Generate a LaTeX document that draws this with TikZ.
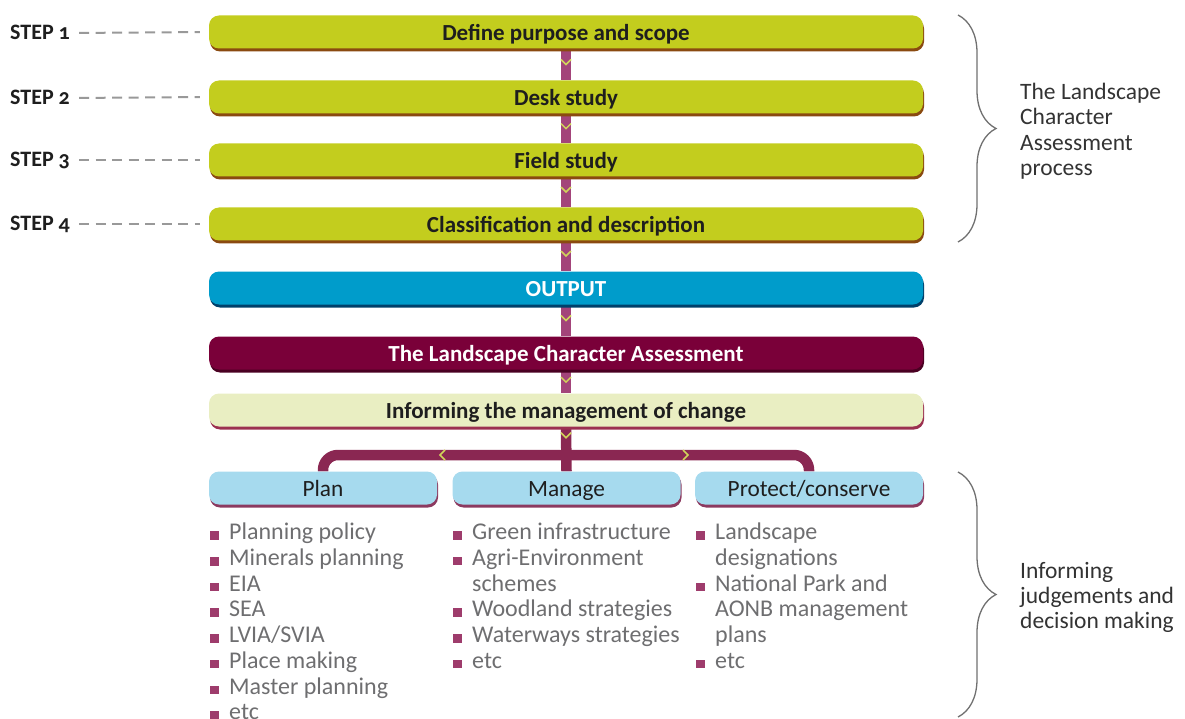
\documentclass[tikz,border=0pt]{standalone}
\usepackage{fontspec}
\setmainfont{Carlito}
\newfontfamily\stepfont[Numbers=OldStyle]{Carlito}
\usetikzlibrary{decorations.pathreplacing,calc}
\definecolor{lime}{HTML}{C3CD1E}
\definecolor{limesh}{HTML}{8A4A10}
\definecolor{outblue}{HTML}{009CCB}
\definecolor{outsh}{HTML}{00406A}
\definecolor{lcamaroon}{HTML}{7A0039}
\definecolor{lcash}{HTML}{4A0022}
\definecolor{pale}{HTML}{E9EEC2}
\definecolor{palesh}{HTML}{9B3050}
\definecolor{lblue}{HTML}{A6DAEE}
\definecolor{lbluesh}{HTML}{8C3A60}
\definecolor{tube}{HTML}{A3447A}
\definecolor{tubedark}{HTML}{8A2752}
\definecolor{chev}{HTML}{D0D45A}
\definecolor{bulc}{HTML}{9E3C6C}
\definecolor{listgray}{HTML}{6E6E70}
\definecolor{dashgray}{HTML}{999999}
\definecolor{txt}{HTML}{1E1E1E}
\definecolor{sidegray}{HTML}{333333}
\definecolor{bracegray}{HTML}{707070}
\pgfdeclarelayer{background}
\pgfsetlayers{background,main}
\newcommand\bul{\makebox[19pt][l]{\textcolor{bulc}{\rule{8.5pt}{8.5pt}}}}
\newcommand\ind{\hspace*{19pt}}
\tikzset{
  bar/.style 2 args={fill=#1, preaction={fill=#2, transform canvas={xshift=1pt,yshift=-3pt}},
    rounded corners=10pt, minimum width=714pt, minimum height=33pt, inner sep=0pt,
    text height=17pt, text depth=0pt,
    font=\fontsize{23}{26}\selectfont\bfseries, text=txt},
  box/.style={fill=lblue, preaction={fill=lbluesh, transform canvas={xshift=1pt,yshift=-3pt}},
    rounded corners=10pt, minimum width=228pt, minimum height=33pt, inner sep=0pt,
    text height=17pt, text depth=0pt,
    font=\fontsize{23.3}{26}\selectfont, text=txt},
  steplabel/.style={anchor=west, inner sep=0pt, text height=14pt, text depth=0pt,
    font=\stepfont\fontsize{22}{24}\selectfont\bfseries, text=txt},
  dashline/.style={draw=dashgray, line width=2pt, dash pattern=on 10pt off 6.5pt, shorten <=9pt, shorten >=9pt},
  vtube/.style={draw=tube, line width=10pt},
  branch/.style={draw=tubedark, line width=10.5pt, rounded corners=15pt},
  chevline/.style={draw=chev, line width=1.5pt},
  listcol/.style={anchor=north west, align=left, inner sep=0pt,
    font=\fontsize{24}{25.7}\selectfont, text=listgray},
  sidetext/.style={anchor=north west, align=left, inner sep=0pt,
    font=\fontsize{23.5}{25.3}\selectfont, text=sidegray},
  bracestyle/.style={draw=bracegray, line width=1.3pt, decorate, decoration={brace, amplitude=38pt, aspect=0.5}}
}
\begin{document}
\begin{tikzpicture}[x=1pt,y=-1pt]
\useasboundingbox (0,0) rectangle (1185,719);
% bars
\node[bar={lime}{limesh}] (b1) at (566,32) {Define purpose and scope};
\node[bar={lime}{limesh}] (b2) at (566,97) {Desk study};
\node[bar={lime}{limesh}] (b3) at (566,160) {Field study};
\node[bar={lime}{limesh}] (b4) at (566,224) {Classification and description};
\node[bar={outblue}{outsh}, text=white] (out) at (566,288) {OUTPUT};
\node[bar={lcamaroon}{lcash}, text=white] (lca) at (566,353) {The Landscape Character Assessment};
\node[bar={pale}{palesh}] (inf) at (566,410) {Informing the management of change};
\node[box] (plan) at (323,488) {Plan};
\node[box] (man) at (566.5,488) {Manage};
\node[box] (prot) at (809,488) {Protect/conserve};
\coordinate (hub) at (566,455);
% connectors
\begin{pgfonlayer}{background}
\draw[vtube] (b1.south) -- (b2.north);
\draw[vtube] (b2.south) -- (b3.north);
\draw[vtube] (b3.south) -- (b4.north);
\draw[vtube] (b4.south) -- (out.north);
\draw[vtube] (out.south) -- (lca.north);
\draw[vtube] (lca.south) -- (inf.north);
\draw[branch] (plan.north) -- (plan.north |- hub) -- (prot.north |- hub) -- (prot.north);
\draw[branch] (inf.south) -- (man.north);
\end{pgfonlayer}
% chevrons
\foreach \a/\b in {b1/b2,b2/b3,b3/b4,b4/out,out/lca,lca/inf}{
  \draw[chevline] ($(\a.south)!0.42!(\b.north)+(-5,-2.5)$) -- ($(\a.south)!0.42!(\b.north)+(0,2.5)$) -- ($(\a.south)!0.42!(\b.north)+(5,-2.5)$);
}
\draw[chevline] ($(inf.south)+(-5,6)$) -- ($(inf.south)+(0,11)$) -- ($(inf.south)+(5,6)$);
\draw[chevline] ($(hub)+(-121,-5)$) -- ($(hub)+(-126,0)$) -- ($(hub)+(-121,5)$);
\draw[chevline] ($(hub)+(117,-5)$) -- ($(hub)+(122,0)$) -- ($(hub)+(117,5)$);
% steps
\node[steplabel] (s1) at (10,33) {STEP 1};
\node[steplabel] (s2) at (10,98) {STEP 2};
\node[steplabel] (s3) at (10,160) {STEP 3};
\node[steplabel] (s4) at (10,224) {STEP 4};
\draw[dashline] (s1.east) -- (b1.west);
\draw[dashline] (s2.east) -- (b2.west);
\draw[dashline] (s3.east) -- (b3.west);
\draw[dashline] (s4.east) -- (b4.west);
% lists
\node[listcol] (l1) at (210,523) {\bul Planning policy\\ \bul Minerals planning\\ \bul EIA\\ \bul SEA\\ \bul LVIA/SVIA\\ \bul Place making\\ \bul Master planning\\ \bul etc};
\node[listcol] (l2) at (453,523) {\bul Green infrastructure\\ \bul Agri-Environment\\ \ind schemes\\ \bul Woodland strategies\\ \bul Waterways strategies\\ \bul etc};
\node[listcol] (l3) at (696,523) {\bul Landscape\\ \ind designations\\ \bul National Park and\\ \ind AONB management\\ \ind plans\\ \bul etc};
% braces
\coordinate (br1a) at (958,15);
\coordinate (br1b) at (958,242);
\coordinate (br2a) at (958,472);
\coordinate (br2b) at (958,717);
\draw[bracestyle] (br1a) -- (br1b);
\draw[bracestyle] (br2a) -- (br2b);
\node[sidetext] (t1) at (1020,83) {The Landscape\\Character\\Assessment\\process};
\node[sidetext] (t2) at (1020,562) {Informing\\judgements and\\decision making};
\end{tikzpicture}
\end{document}
